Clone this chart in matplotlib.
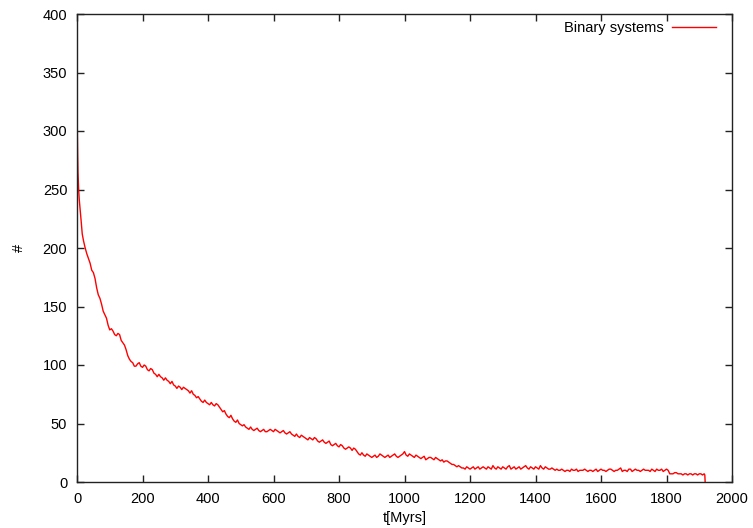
import numpy as np
import matplotlib
matplotlib.use("Agg")
import matplotlib.pyplot as plt
from matplotlib.ticker import MultipleLocator

plt.rcParams['font.family'] = ['Liberation Sans', 'DejaVu Sans']

# early samples (Myr) and counts
t_early = [0, 1, 2, 3, 4, 5, 7, 10, 13, 16, 20, 25, 30, 35]
n_early = [322, 300, 280, 265, 258, 250, 241, 232, 222, 212, 206, 200, 195, 191]

# samples every 10 Myr from 40 to 1910
t_main = list(range(40, 1920, 10))
n_main = [
    187, 179, 166, 157, 146, 140, 130, 129, 125, 126,
    119, 113, 105, 102, 99, 102, 98, 99, 95, 96,
    92, 92, 89, 89, 86, 86, 82, 82, 79, 80,
    78, 78, 74, 73, 69, 70, 67, 68, 65, 66,
    62, 61, 56, 57, 52, 53, 49, 49, 46, 47,
    44, 46, 43, 45, 43, 45, 43, 44, 42, 44,
    41, 43, 40, 41, 38, 39, 37, 38, 36, 37,
    34, 36, 33, 35, 31, 33, 30, 31, 28, 30,
    27, 28, 24, 25, 22, 23, 21, 23, 22, 23,
    21, 23, 22, 24, 21, 23, 26, 22, 23, 21,
    22, 20, 22, 20, 21, 19, 20, 18, 17, 18,
    16, 15, 13, 13, 12, 13, 11, 13, 12, 11,
    13, 11, 12, 14, 11, 12, 13, 11, 14, 12,
    11, 13, 12, 14, 11, 12, 13, 11, 12, 13,
    11, 12, 10, 10, 11, 9, 10, 11, 10, 9,
    10, 11, 9, 10, 10, 9, 11, 10, 10, 11,
    9, 10, 12, 10, 9, 11, 10, 10, 9, 11,
    10, 9, 10, 11, 10, 9, 11, 7, 7, 8,
    7, 6, 7, 7, 6, 7, 7, 6,
]

# samples in between (45, 55, ..., 1915)
t_mid = list(range(45, 1925, 10))
n_mid = [
    181, 174, 160, 152, 143, 134, 131, 126, 127, 121,
    117, 108, 103, 99, 101, 99, 100, 96, 97, 93,
    90, 90, 87, 87, 84, 83, 80, 81, 81, 79,
    76, 75, 72, 71, 68, 68, 66, 66, 67, 64,
    60, 58, 55, 54, 51, 50, 48, 47, 45, 45,
    45, 44, 44, 43, 44, 44, 45, 43, 43, 42,
    42, 41, 39, 39, 40, 38, 36, 37, 38, 35,
    35, 34, 34, 32, 32, 31, 32, 29, 29, 29,
    29, 26, 23, 23, 24, 22, 22, 21, 24, 22,
    22, 21, 23, 22, 22, 24, 23, 24, 22, 23,
    21, 21, 19, 21, 20, 21, 19, 19, 18, 17,
    15, 14, 14, 12, 11, 12, 12, 11, 13, 12,
    12, 13, 11, 12, 13, 11, 12, 13, 11, 13,
    12, 11, 13, 12, 13, 11, 12, 14, 11, 12,
    11, 11, 11, 10, 10, 10, 9, 10, 11, 10,
    10, 10, 10, 9, 11, 10, 10, 9, 11, 10,
    10, 11, 9, 10, 11, 9, 11, 10, 10, 10,
    10, 11, 9, 10, 11, 10, 10, 7, 8, 7,
    7, 7, 6, 7, 7, 6, 7, 7,
]

# final samples
t_end = [1917, 1918]
n_end = [6, 0]

t_body = np.column_stack([t_main, t_mid]).ravel()
n_body = np.column_stack([n_main, n_mid]).ravel()

t = np.concatenate([t_early, t_body, t_end]).astype(float)
n = np.concatenate([n_early, n_body, n_end]).astype(float)

fig = plt.figure(figsize=(7.53, 5.28), dpi=100)
ax = fig.add_axes([77/753, 46/528, 655/753, 468/528])

ax.plot(t, n, color='#ff0000', lw=1.0, label='Binary systems')

ax.set_xlim(0, 2000)
ax.set_ylim(0, 400)
ax.xaxis.set_major_locator(MultipleLocator(200))
ax.yaxis.set_major_locator(MultipleLocator(50))
ax.tick_params(direction='in', length=5, width=1, top=True, right=True,
               labelsize=10.5, colors='#222222')
ax.tick_params(axis='y', pad=7)
ax.tick_params(axis='x', pad=7)
ax.tick_params(labelcolor='black')
for s in ax.spines.values():
    s.set_linewidth(1.0)
    s.set_color('#222222')

ax.set_xlabel('t[Myrs]', fontsize=10.5, labelpad=4)
ax.set_ylabel('#', fontsize=10.5, labelpad=12)

leg = ax.legend(loc='upper right', frameon=False, markerfirst=False,
                fontsize=10.5, handlelength=3.0, borderaxespad=0,
                borderpad=0, handletextpad=0.6,
                bbox_to_anchor=(716/753, 1 - 21/528),
                bbox_transform=fig.transFigure)

fig.savefig('out.png', dpi=100)
